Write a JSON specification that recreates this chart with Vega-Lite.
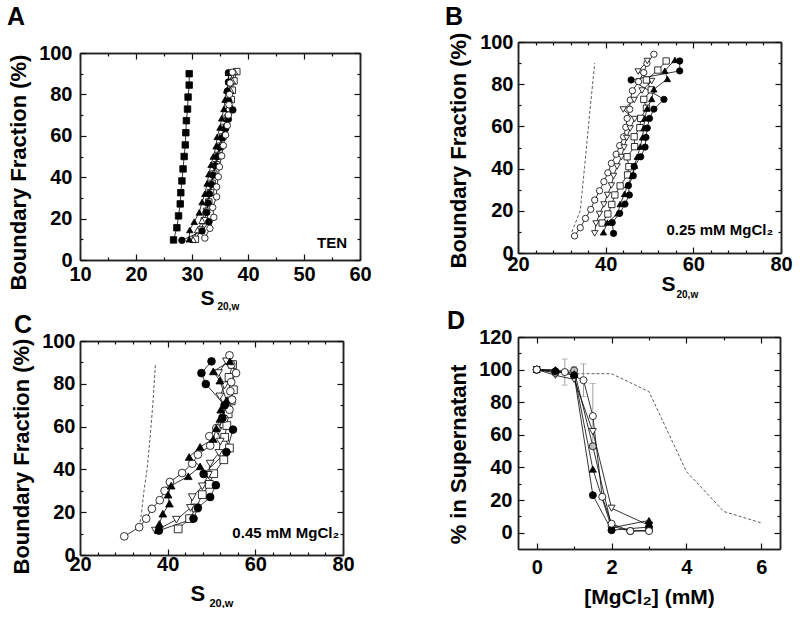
{
"$schema": "https://vega.github.io/schema/vega-lite/v6.json",
"background": "white",
"padding": {"left": 7, "top": 5, "right": 0, "bottom": 0},
"config": {
 "view": {"stroke": null},
 "font": "Liberation Sans",
 "axis": {"domain": true, "domainColor": "#222", "domainWidth": 1.5, "grid": false, "minExtent": 0, "labelFont": "Liberation Sans", "labelFontWeight": "bold", "labelFontSize": 20, "labelColor": "black", "titleFont": "Liberation Sans", "titleFontWeight": "bold", "titleFontSize": 22, "titleColor": "black", "tickColor": "#111", "tickWidth": 1.2, "labelOverlap": false, "labelFlush": false, "labelBound": false},
 "title": {"font": "Liberation Sans", "fontWeight": "bold", "fontSize": 25, "color": "black", "anchor": "start", "frame": "group", "baseline": "alphabetic"}
},
"spacing": 73,
"columns": 2,
"align": "none",
"concat": [
 {"spacing": 2, "vconcat": [
  {"width": 280, "height": 218,
   "title": {"text": "A", "dx": -73, "offset": 12},
   "data": {"name": "A"},
   "resolve": {"axis": {"x": "independent", "y": "independent"}},
   "layer": [
    {"mark": {"type": "point", "opacity": 0},
     "encoding": {
      "x": {"field": "x", "type": "quantitative", "scale": {"domain": [10, 60], "nice": false, "zero": false},
       "axis": {"orient": "bottom", "values": [10,20,30,40,50,60], "tickSize": -6, "labelPadding": 10, "title": "S", "titleFontSize": 21, "titleX": 120, "titleY": 44, "titleAlign": "left", "titleBaseline": "alphabetic"}},
      "y": {"field": "y", "type": "quantitative", "scale": {"domain": [0, 100], "range": [218, 11], "nice": false, "zero": false},
       "axis": {"orient": "left", "values": [0,20,40,60,80,100], "tickSize": -6, "labelPadding": 14, "title": "Boundary Fraction (%)", "titlePadding": 8, "titleY": 130}}
     }},
    {"mark": {"type": "point", "opacity": 0},
     "encoding": {
      "x": {"field": "x", "type": "quantitative", "scale": {"domain": [10, 60], "nice": false, "zero": false},
       "axis": {"orient": "bottom", "values": [15,25,35,45,55], "tickSize": -3, "labels": false, "title": "20,w", "titleFontSize": 10, "titleX": 137, "titleY": 49, "titleAlign": "left", "titleBaseline": "alphabetic"}},
      "y": {"field": "y", "type": "quantitative", "scale": {"domain": [0, 100], "range": [218, 11], "nice": false, "zero": false},
       "axis": {"orient": "right", "values": [0,20,40,60,80,100], "labels": false, "tickSize": -6, "title": null}}
     }},
    {"mark": {"type": "point", "opacity": 0},
     "encoding": {
      "x": {"field": "x", "type": "quantitative", "scale": {"domain": [10, 60], "nice": false, "zero": false},
       "axis": {"orient": "top", "offset": -11, "values": [10,20,30,40,50,60], "labels": false, "tickSize": -6, "title": null}},
      "y": {"field": "y", "type": "quantitative", "scale": {"domain": [0, 100], "range": [218, 11], "nice": false, "zero": false},
       "axis": {"orient": "left", "values": [10,30,50,70,90], "labels": false, "tickSize": -3, "title": null}}
     }},
    {"mark": {"type": "point", "opacity": 0},
     "encoding": {
      "x": {"field": "x", "type": "quantitative", "scale": {"domain": [10, 60], "nice": false, "zero": false},
       "axis": {"orient": "top", "offset": -11, "values": [15,25,35,45,55], "labels": false, "tickSize": -3, "title": null}},
      "y": {"field": "y", "type": "quantitative", "scale": {"domain": [0, 100], "range": [218, 11], "nice": false, "zero": false},
       "axis": {"orient": "right", "values": [10,30,50,70,90], "labels": false, "tickSize": -3, "title": null}}
     }},
    {"mark": {"type": "line", "color": "black", "strokeWidth": 0.8},
     "encoding": {
      "x": {"field": "x", "type": "quantitative", "scale": {"domain": [10, 60], "nice": false, "zero": false}, "axis": null},
      "y": {"field": "y", "type": "quantitative", "scale": {"domain": [0, 100], "range": [218, 11], "nice": false, "zero": false}, "axis": null},
      "detail": {"field": "s"}, "order": {"field": "y"}}},
    {"mark": {"type": "point", "filled": true, "stroke": "black", "strokeWidth": 0.8, "size": 42, "opacity": 1},
     "encoding": {
      "x": {"field": "x", "type": "quantitative", "scale": {"domain": [10, 60], "nice": false, "zero": false}, "axis": null},
      "y": {"field": "y", "type": "quantitative", "scale": {"domain": [0, 100], "range": [218, 11], "nice": false, "zero": false}, "axis": null},
      "shape": {"field": "s", "type": "nominal", "scale": {"domain": ["fs","fc","ft","oc","os","ot","od","gc"], "range": ["square","circle","triangle-up","circle","square","triangle-up","triangle-down","circle"]}, "legend": null},
      "fill": {"field": "s", "type": "nominal", "scale": {"domain": ["fs","fc","ft","oc","os","ot","od","gc"], "range": ["black","black","black","white","white","white","white","#bdbdbd"]}, "legend": null}}},
    {"data": {"values": [{}]},
     "mark": {"type": "text", "text": "TEN", "align": "right", "baseline": "alphabetic", "fontSize": 15, "fontWeight": "bold", "font": "Liberation Sans", "color": "black"},
     "encoding": {
      "x": {"datum": 57.7, "type": "quantitative", "scale": {"domain": [10, 60], "nice": false, "zero": false}, "axis": null},
      "y": {"datum": 5.8, "type": "quantitative", "scale": {"domain": [0, 100], "range": [218, 11], "nice": false, "zero": false}, "axis": null}}}
   ]},
  {"width": 263, "height": 214,
   "title": {"text": "C", "dx": -66, "offset": -7},
   "data": {"name": "C"},
   "resolve": {"axis": {"x": "independent", "y": "independent"}},
   "layer": [
    {"mark": {"type": "point", "opacity": 0},
     "encoding": {
      "x": {"field": "x", "type": "quantitative", "scale": {"domain": [20, 80], "nice": false, "zero": false},
       "axis": {"orient": "bottom", "values": [20,40,60,80], "tickSize": -6, "labelPadding": 5, "title": "S", "titleFontSize": 22, "titleX": 110, "titleY": 45, "titleAlign": "left", "titleBaseline": "alphabetic"}},
      "y": {"field": "y", "type": "quantitative", "scale": {"domain": [0, 100], "nice": false, "zero": false},
       "axis": {"orient": "left", "values": [0,20,40,60,80,100], "tickSize": -6, "labelPadding": 11, "title": "Boundary Fraction (%)", "titlePadding": 8, "titleY": 115}}
     }},
    {"mark": {"type": "point", "opacity": 0},
     "encoding": {
      "x": {"field": "x", "type": "quantitative", "scale": {"domain": [20, 80], "nice": false, "zero": false},
       "axis": {"orient": "bottom", "values": [24,28,32,36,44,48,52,56,64,68,72,76], "tickSize": -3, "labels": false, "title": "20,w", "titleFontSize": 11, "titleX": 129, "titleY": 51, "titleAlign": "left", "titleBaseline": "alphabetic"}},
      "y": {"field": "y", "type": "quantitative", "scale": {"domain": [0, 100], "nice": false, "zero": false},
       "axis": {"orient": "right", "values": [0,20,40,60,80,100], "labels": false, "tickSize": -6, "title": null}}
     }},
    {"mark": {"type": "point", "opacity": 0},
     "encoding": {
      "x": {"field": "x", "type": "quantitative", "scale": {"domain": [20, 80], "nice": false, "zero": false},
       "axis": {"orient": "top", "values": [20,40,60,80], "labels": false, "tickSize": -6, "title": null}},
      "y": {"field": "y", "type": "quantitative", "scale": {"domain": [0, 100], "nice": false, "zero": false},
       "axis": {"orient": "left", "values": [10,30,50,70,90], "labels": false, "tickSize": -3, "title": null}}
     }},
    {"mark": {"type": "point", "opacity": 0},
     "encoding": {
      "x": {"field": "x", "type": "quantitative", "scale": {"domain": [20, 80], "nice": false, "zero": false},
       "axis": {"orient": "top", "values": [24,28,32,36,44,48,52,56,64,68,72,76], "labels": false, "tickSize": -3, "title": null}},
      "y": {"field": "y", "type": "quantitative", "scale": {"domain": [0, 100], "nice": false, "zero": false},
       "axis": {"orient": "right", "values": [10,30,50,70,90], "labels": false, "tickSize": -3, "title": null}}
     }},
    {"transform": [{"filter": "datum.s === 'ref'"}],
     "mark": {"type": "line", "color": "#333", "strokeWidth": 0.8, "strokeDash": [3, 2]},
     "encoding": {
      "x": {"field": "x", "type": "quantitative", "scale": {"domain": [20, 80], "nice": false, "zero": false}, "axis": null},
      "y": {"field": "y", "type": "quantitative", "scale": {"domain": [0, 100], "nice": false, "zero": false}, "axis": null},
      "order": {"field": "y"}}},
    {"transform": [{"filter": "datum.s !== 'ref'"}],
     "mark": {"type": "line", "color": "black", "strokeWidth": 0.8},
     "encoding": {
      "x": {"field": "x", "type": "quantitative", "scale": {"domain": [20, 80], "nice": false, "zero": false}, "axis": null},
      "y": {"field": "y", "type": "quantitative", "scale": {"domain": [0, 100], "nice": false, "zero": false}, "axis": null},
      "detail": {"field": "s"}, "order": {"field": "y"}}},
    {"transform": [{"filter": "datum.s !== 'ref'"}],
     "mark": {"type": "point", "filled": true, "stroke": "black", "strokeWidth": 0.8, "size": 60, "opacity": 1},
     "encoding": {
      "x": {"field": "x", "type": "quantitative", "scale": {"domain": [20, 80], "nice": false, "zero": false}, "axis": null},
      "y": {"field": "y", "type": "quantitative", "scale": {"domain": [0, 100], "nice": false, "zero": false}, "axis": null},
      "shape": {"field": "s", "type": "nominal", "scale": {"domain": ["fs","fc","ft","oc","os","ot","od","gc"], "range": ["square","circle","triangle-up","circle","square","triangle-up","triangle-down","circle"]}, "legend": null},
      "fill": {"field": "s", "type": "nominal", "scale": {"domain": ["fs","fc","ft","oc","os","ot","od","gc"], "range": ["black","black","black","white","white","white","white","#bdbdbd"]}, "legend": null}}},
    {"data": {"values": [{}]},
     "mark": {"type": "text", "text": "0.45 mM MgCl₂", "align": "right", "baseline": "alphabetic", "fontSize": 15, "fontWeight": "bold", "font": "Liberation Sans", "color": "black"},
     "encoding": {
      "x": {"datum": 79.1, "type": "quantitative", "scale": {"domain": [20, 80], "nice": false, "zero": false}, "axis": null},
      "y": {"datum": 7.9, "type": "quantitative", "scale": {"domain": [0, 100], "nice": false, "zero": false}, "axis": null}}}
   ]}
 ]},
 {"spacing": 10, "vconcat": [
  {"width": 263, "height": 211,
   "title": {"text": "B", "dx": -73, "offset": 2},
   "data": {"name": "B"},
   "resolve": {"axis": {"x": "independent", "y": "independent"}},
   "layer": [
    {"mark": {"type": "point", "opacity": 0},
     "encoding": {
      "x": {"field": "x", "type": "quantitative", "scale": {"domain": [20, 80], "nice": false, "zero": false},
       "axis": {"orient": "bottom", "values": [20,40,60,80], "tickSize": -6, "labelPadding": 7, "title": "S", "titleFontSize": 21, "titleX": 143, "titleY": 37, "titleAlign": "left", "titleBaseline": "alphabetic"}},
      "y": {"field": "y", "type": "quantitative", "scale": {"domain": [0, 100], "nice": false, "zero": false},
       "axis": {"orient": "left", "values": [0,20,40,60,80,100], "tickSize": -6, "labelPadding": 11, "title": "Boundary Fraction (%)", "titlePadding": 9, "titleY": 108}}
     }},
    {"mark": {"type": "point", "opacity": 0},
     "encoding": {
      "x": {"field": "x", "type": "quantitative", "scale": {"domain": [20, 80], "nice": false, "zero": false},
       "axis": {"orient": "bottom", "values": [24,28,32,36,44,48,52,56,64,68,72,76], "tickSize": -3, "labels": false, "title": "20,w", "titleFontSize": 10, "titleX": 158, "titleY": 44, "titleAlign": "left", "titleBaseline": "alphabetic"}},
      "y": {"field": "y", "type": "quantitative", "scale": {"domain": [0, 100], "nice": false, "zero": false},
       "axis": {"orient": "right", "values": [0,20,40,60,80,100], "labels": false, "tickSize": -6, "title": null}}
     }},
    {"mark": {"type": "point", "opacity": 0},
     "encoding": {
      "x": {"field": "x", "type": "quantitative", "scale": {"domain": [20, 80], "nice": false, "zero": false},
       "axis": {"orient": "top", "values": [20,40,60,80], "labels": false, "tickSize": -6, "title": null}},
      "y": {"field": "y", "type": "quantitative", "scale": {"domain": [0, 100], "nice": false, "zero": false},
       "axis": {"orient": "left", "values": [10,30,50,70,90], "labels": false, "tickSize": -3, "title": null}}
     }},
    {"mark": {"type": "point", "opacity": 0},
     "encoding": {
      "x": {"field": "x", "type": "quantitative", "scale": {"domain": [20, 80], "nice": false, "zero": false},
       "axis": {"orient": "top", "values": [24,28,32,36,44,48,52,56,64,68,72,76], "labels": false, "tickSize": -3, "title": null}},
      "y": {"field": "y", "type": "quantitative", "scale": {"domain": [0, 100], "nice": false, "zero": false},
       "axis": {"orient": "right", "values": [10,30,50,70,90], "labels": false, "tickSize": -3, "title": null}}
     }},
    {"transform": [{"filter": "datum.s === 'ref'"}],
     "mark": {"type": "line", "color": "#333", "strokeWidth": 0.8, "strokeDash": [3, 2]},
     "encoding": {
      "x": {"field": "x", "type": "quantitative", "scale": {"domain": [20, 80], "nice": false, "zero": false}, "axis": null},
      "y": {"field": "y", "type": "quantitative", "scale": {"domain": [0, 100], "nice": false, "zero": false}, "axis": null},
      "order": {"field": "y"}}},
    {"transform": [{"filter": "datum.s !== 'ref'"}],
     "mark": {"type": "line", "color": "black", "strokeWidth": 0.8},
     "encoding": {
      "x": {"field": "x", "type": "quantitative", "scale": {"domain": [20, 80], "nice": false, "zero": false}, "axis": null},
      "y": {"field": "y", "type": "quantitative", "scale": {"domain": [0, 100], "nice": false, "zero": false}, "axis": null},
      "detail": {"field": "s"}, "order": {"field": "y"}}},
    {"transform": [{"filter": "datum.s !== 'ref'"}],
     "mark": {"type": "point", "filled": true, "stroke": "black", "strokeWidth": 0.8, "size": 40, "opacity": 1},
     "encoding": {
      "x": {"field": "x", "type": "quantitative", "scale": {"domain": [20, 80], "nice": false, "zero": false}, "axis": null},
      "y": {"field": "y", "type": "quantitative", "scale": {"domain": [0, 100], "nice": false, "zero": false}, "axis": null},
      "shape": {"field": "s", "type": "nominal", "scale": {"domain": ["fs","fc","ft","oc","os","ot","od","gc"], "range": ["square","circle","triangle-up","circle","square","triangle-up","triangle-down","circle"]}, "legend": null},
      "fill": {"field": "s", "type": "nominal", "scale": {"domain": ["fs","fc","ft","oc","os","ot","od","gc"], "range": ["black","black","black","white","white","white","white","#bdbdbd"]}, "legend": null}}},
    {"data": {"values": [{}]},
     "mark": {"type": "text", "text": "0.25 mM MgCl₂", "align": "right", "baseline": "alphabetic", "fontSize": 15, "fontWeight": "bold", "font": "Liberation Sans", "color": "black"},
     "encoding": {
      "x": {"datum": 78.2, "type": "quantitative", "scale": {"domain": [20, 80], "nice": false, "zero": false}, "axis": null},
      "y": {"datum": 8.5, "type": "quantitative", "scale": {"domain": [0, 100], "nice": false, "zero": false}, "axis": null}}}
   ]},
  {"width": 262, "height": 212,
   "title": {"text": "D", "dx": -71, "offset": -7},
   "data": {"name": "D"},
   "resolve": {"axis": {"x": "independent", "y": "independent"}},
   "layer": [
    {"mark": {"type": "point", "opacity": 0},
     "encoding": {
      "x": {"field": "x", "type": "quantitative", "scale": {"domain": [-0.5, 6.5], "nice": false, "zero": false},
       "axis": {"orient": "bottom", "values": [0,2,4,6], "tickSize": -6, "labelPadding": 14, "title": "[MgCl₂] (mM)", "titleFontSize": 21, "titleX": 131, "titleY": 54, "titleAlign": "center", "titleBaseline": "alphabetic"}},
      "y": {"field": "y", "type": "quantitative", "scale": {"domain": [-10, 120], "nice": false, "zero": false},
       "axis": {"orient": "left", "values": [0,20,40,60,80,100,120], "tickSize": -6, "labelPadding": 12, "title": "% in Supernatant", "titlePadding": 8, "titleY": 117}}
     }},
    {"mark": {"type": "point", "opacity": 0},
     "encoding": {
      "x": {"field": "x", "type": "quantitative", "scale": {"domain": [-0.5, 6.5], "nice": false, "zero": false},
       "axis": {"orient": "bottom", "values": [1,3,5], "tickSize": -3, "labels": false, "title": null}},
      "y": {"field": "y", "type": "quantitative", "scale": {"domain": [-10, 120], "nice": false, "zero": false},
       "axis": {"orient": "right", "values": [0,20,40,60,80,100,120], "labels": false, "tickSize": -6, "title": null}}
     }},
    {"mark": {"type": "point", "opacity": 0},
     "encoding": {
      "x": {"field": "x", "type": "quantitative", "scale": {"domain": [-0.5, 6.5], "nice": false, "zero": false},
       "axis": {"orient": "top", "values": [0,2,4,6], "labels": false, "tickSize": -6, "title": null}},
      "y": {"field": "y", "type": "quantitative", "scale": {"domain": [-10, 120], "nice": false, "zero": false},
       "axis": {"orient": "left", "values": [10,30,50,70,90,110], "labels": false, "tickSize": -3, "title": null}}
     }},
    {"mark": {"type": "point", "opacity": 0},
     "encoding": {
      "x": {"field": "x", "type": "quantitative", "scale": {"domain": [-0.5, 6.5], "nice": false, "zero": false},
       "axis": {"orient": "top", "values": [1,3,5], "labels": false, "tickSize": -3, "title": null}},
      "y": {"field": "y", "type": "quantitative", "scale": {"domain": [-10, 120], "nice": false, "zero": false},
       "axis": {"orient": "right", "values": [10,30,50,70,90,110], "labels": false, "tickSize": -3, "title": null}}
     }},
    {"transform": [{"filter": "datum.s === 'ref'"}],
     "mark": {"type": "line", "color": "#333", "strokeWidth": 0.8, "strokeDash": [3, 2]},
     "encoding": {
      "x": {"field": "x", "type": "quantitative", "scale": {"domain": [-0.5, 6.5], "nice": false, "zero": false}, "axis": null},
      "y": {"field": "y", "type": "quantitative", "scale": {"domain": [-10, 120], "nice": false, "zero": false}, "axis": null}}},
    {"data": {"name": "Derr"},
     "mark": {"type": "rule", "color": "#888", "strokeWidth": 0.8},
     "encoding": {
      "x": {"field": "x", "type": "quantitative", "scale": {"domain": [-0.5, 6.5], "nice": false, "zero": false}, "axis": null},
      "y": {"field": "lo", "type": "quantitative", "scale": {"domain": [-10, 120], "nice": false, "zero": false}, "axis": null},
      "y2": {"field": "hi"}}},
    {"data": {"name": "Derr"},
     "mark": {"type": "tick", "color": "#888", "orient": "horizontal", "size": 6, "thickness": 0.8},
     "encoding": {
      "x": {"field": "x", "type": "quantitative", "scale": {"domain": [-0.5, 6.5], "nice": false, "zero": false}, "axis": null},
      "y": {"field": "hi", "type": "quantitative", "scale": {"domain": [-10, 120], "nice": false, "zero": false}, "axis": null}}},
    {"data": {"name": "Derr"},
     "mark": {"type": "tick", "color": "#888", "orient": "horizontal", "size": 6, "thickness": 0.8},
     "encoding": {
      "x": {"field": "x", "type": "quantitative", "scale": {"domain": [-0.5, 6.5], "nice": false, "zero": false}, "axis": null},
      "y": {"field": "lo", "type": "quantitative", "scale": {"domain": [-10, 120], "nice": false, "zero": false}, "axis": null}}},
    {"transform": [{"filter": "datum.s !== 'ref'"}],
     "mark": {"type": "line", "color": "black", "strokeWidth": 0.8},
     "encoding": {
      "x": {"field": "x", "type": "quantitative", "scale": {"domain": [-0.5, 6.5], "nice": false, "zero": false}, "axis": null},
      "y": {"field": "y", "type": "quantitative", "scale": {"domain": [-10, 120], "nice": false, "zero": false}, "axis": null},
      "detail": {"field": "s"}}},
    {"transform": [{"filter": "datum.s !== 'ref'"}],
     "mark": {"type": "point", "filled": true, "stroke": "black", "strokeWidth": 0.8, "size": 50, "opacity": 1},
     "encoding": {
      "x": {"field": "x", "type": "quantitative", "scale": {"domain": [-0.5, 6.5], "nice": false, "zero": false}, "axis": null},
      "y": {"field": "y", "type": "quantitative", "scale": {"domain": [-10, 120], "nice": false, "zero": false}, "axis": null},
      "shape": {"field": "s", "type": "nominal", "scale": {"domain": ["fs","fc","ft","oc","os","ot","od","gc"], "range": ["square","circle","triangle-up","circle","square","triangle-up","triangle-down","circle"]}, "legend": null},
      "fill": {"field": "s", "type": "nominal", "scale": {"domain": ["fs","fc","ft","oc","os","ot","od","gc"], "range": ["black","black","black","white","white","white","white","#bdbdbd"]}, "legend": null}}}
   ]}
 ]}
],
"datasets": {
 "A": [
  {"s":"os","x":30.6,"y":10},{"s":"os","x":31.6,"y":14.5},{"s":"os","x":32.2,"y":19},{"s":"os","x":32.6,"y":23.5},{"s":"os","x":33,"y":28},{"s":"os","x":33.3,"y":32.5},{"s":"os","x":33.6,"y":37},{"s":"os","x":33.9,"y":41.5},{"s":"os","x":34.3,"y":46},{"s":"os","x":34.7,"y":50.5},{"s":"os","x":35.1,"y":55},{"s":"os","x":35.5,"y":59.5},{"s":"os","x":35.9,"y":64},{"s":"os","x":36.3,"y":68.5},{"s":"os","x":36.7,"y":73},{"s":"os","x":37,"y":77.5},{"s":"os","x":37.2,"y":82},{"s":"os","x":37.5,"y":86.5},{"s":"os","x":38,"y":91},
  {"s":"ot","x":30.2,"y":9.8},{"s":"ot","x":31,"y":14.5},{"s":"ot","x":31.8,"y":19},{"s":"ot","x":32.3,"y":23.5},{"s":"ot","x":32.7,"y":28},{"s":"ot","x":33.1,"y":32.5},{"s":"ot","x":33.4,"y":37},{"s":"ot","x":33.7,"y":41.5},{"s":"ot","x":34.1,"y":46},{"s":"ot","x":34.5,"y":50.5},{"s":"ot","x":34.9,"y":55},{"s":"ot","x":35.3,"y":59.5},{"s":"ot","x":35.7,"y":64},{"s":"ot","x":36.1,"y":68.5},{"s":"ot","x":36.4,"y":73},{"s":"ot","x":36.7,"y":77.5},{"s":"ot","x":36.9,"y":82},{"s":"ot","x":37.2,"y":86.5},{"s":"ot","x":37.6,"y":91},
  {"s":"fc","x":28.2,"y":9.5},{"s":"fc","x":31.8,"y":14},{"s":"fc","x":33,"y":18.5},{"s":"fc","x":32.6,"y":23},{"s":"fc","x":32.9,"y":27.5},{"s":"fc","x":33.1,"y":32},{"s":"fc","x":33.5,"y":36.5},{"s":"fc","x":33.8,"y":41},{"s":"fc","x":34.2,"y":45.5},{"s":"fc","x":34.6,"y":50},{"s":"fc","x":35,"y":54.5},{"s":"fc","x":35.4,"y":59},{"s":"fc","x":36,"y":63.5},{"s":"fc","x":36.5,"y":68},{"s":"fc","x":37.3,"y":72.5},{"s":"fc","x":36.5,"y":77},{"s":"fc","x":36.3,"y":81.5},{"s":"fc","x":36.5,"y":86},{"s":"fc","x":36.5,"y":90.5},
  {"s":"ft","x":29.5,"y":10},{"s":"ft","x":29.6,"y":14.5},{"s":"ft","x":30.4,"y":18.5},{"s":"ft","x":31.3,"y":23},{"s":"ft","x":31.8,"y":28},{"s":"ft","x":32.3,"y":32},{"s":"ft","x":32.7,"y":37},{"s":"ft","x":33,"y":41.5},{"s":"ft","x":33.4,"y":46},{"s":"ft","x":33.8,"y":50},{"s":"ft","x":34.3,"y":55},{"s":"ft","x":34.5,"y":59.5},{"s":"ft","x":35,"y":64},{"s":"ft","x":35.3,"y":68.5},{"s":"ft","x":35.7,"y":73},{"s":"ft","x":35.9,"y":77.5},{"s":"ft","x":36.2,"y":82},{"s":"ft","x":36.6,"y":86},{"s":"ft","x":36.5,"y":90.5},
  {"s":"oc","x":32.3,"y":10.6},{"s":"oc","x":33.2,"y":15.3},{"s":"oc","x":33.9,"y":20.6},{"s":"oc","x":33.7,"y":25.4},{"s":"oc","x":34.4,"y":30.5},{"s":"oc","x":34.4,"y":35.3},{"s":"oc","x":34.7,"y":40.2},{"s":"oc","x":34.9,"y":45},{"s":"oc","x":35.3,"y":50.3},{"s":"oc","x":35.6,"y":55.3},{"s":"oc","x":36,"y":60.4},{"s":"oc","x":36.3,"y":65},{"s":"oc","x":36.5,"y":70},{"s":"oc","x":36.6,"y":75},{"s":"oc","x":36.7,"y":80},{"s":"oc","x":36.8,"y":85.5},{"s":"oc","x":37.2,"y":90.7},
  {"s":"fs","x":26.7,"y":9.7},{"s":"fs","x":27.3,"y":15.6},{"s":"fs","x":27.6,"y":21.3},{"s":"fs","x":27.9,"y":27.1},{"s":"fs","x":28.0,"y":32.5},{"s":"fs","x":28.2,"y":38.2},{"s":"fs","x":28.4,"y":44},{"s":"fs","x":28.6,"y":50},{"s":"fs","x":28.8,"y":55.6},{"s":"fs","x":28.9,"y":61.5},{"s":"fs","x":29.0,"y":67.3},{"s":"fs","x":29.2,"y":72.9},{"s":"fs","x":29.3,"y":78.7},{"s":"fs","x":29.5,"y":84.5},{"s":"fs","x":29.5,"y":90}
 ],
 "B": [
  {"s":"ref","x":32.3,"y":10},{"s":"ref","x":34.2,"y":20},{"s":"ref","x":35.2,"y":41},{"s":"ref","x":36.3,"y":65},{"s":"ref","x":37.5,"y":90},
  {"s":"oc","x":32.9,"y":8.1},{"s":"oc","x":34.2,"y":12},{"s":"oc","x":35.4,"y":16.4},{"s":"oc","x":36.6,"y":20.7},{"s":"oc","x":37.5,"y":25.1},{"s":"oc","x":38.6,"y":29.5},{"s":"oc","x":39.6,"y":33.8},{"s":"oc","x":40.5,"y":38},{"s":"oc","x":41.3,"y":42.5},{"s":"oc","x":42.4,"y":46.8},{"s":"oc","x":43.2,"y":50.9},{"s":"oc","x":44.1,"y":55.1},{"s":"oc","x":44.6,"y":59.6},{"s":"oc","x":44.9,"y":63.8},{"s":"oc","x":45.5,"y":68.1},{"s":"oc","x":45.6,"y":72.5},{"s":"oc","x":46.1,"y":76.9},{"s":"oc","x":47.5,"y":81.2},{"s":"oc","x":48.7,"y":85.5},{"s":"oc","x":49.4,"y":89.9},{"s":"oc","x":51,"y":94.2},
  {"s":"od","x":37.5,"y":9.3},{"s":"od","x":37.8,"y":14},{"s":"od","x":38.6,"y":18.5},{"s":"od","x":39.6,"y":23},{"s":"od","x":40.4,"y":27.5},{"s":"od","x":41.3,"y":32},{"s":"od","x":41.8,"y":36.5},{"s":"od","x":42.6,"y":41},{"s":"od","x":43.6,"y":45.5},{"s":"od","x":44.2,"y":50},{"s":"od","x":44.8,"y":54.5},{"s":"od","x":45.6,"y":59},{"s":"od","x":46.6,"y":63.5},{"s":"od","x":44,"y":68},{"s":"od","x":46.5,"y":72.5},{"s":"od","x":48.3,"y":77},{"s":"od","x":50.5,"y":81.5},{"s":"od","x":47.4,"y":86},{"s":"od","x":49.5,"y":91},
  {"s":"os","x":39.2,"y":14.2},{"s":"os","x":40.5,"y":18.5},{"s":"os","x":41.4,"y":23},{"s":"os","x":42.1,"y":27.5},{"s":"os","x":43.3,"y":31.8},{"s":"os","x":45,"y":37},{"s":"os","x":45.3,"y":40.9},{"s":"os","x":44.9,"y":45.6},{"s":"os","x":46.6,"y":50.4},{"s":"os","x":46.5,"y":55.1},{"s":"os","x":47.8,"y":59.4},{"s":"os","x":48,"y":63.8},{"s":"os","x":49.3,"y":68.6},{"s":"os","x":48.7,"y":72.8},{"s":"os","x":50.4,"y":77.3},{"s":"os","x":49.3,"y":82},{"s":"os","x":51.9,"y":86.7},{"s":"os","x":53.8,"y":91},
  {"s":"ft","x":39.5,"y":9.8},{"s":"ft","x":40.4,"y":14.4},{"s":"ft","x":42.8,"y":18.8},{"s":"ft","x":43.3,"y":23.2},{"s":"ft","x":44.3,"y":28},{"s":"ft","x":45,"y":32.2},{"s":"ft","x":46,"y":36.6},{"s":"ft","x":46.6,"y":41.4},{"s":"ft","x":47.2,"y":45.6},{"s":"ft","x":47.9,"y":50.4},{"s":"ft","x":48.4,"y":54.8},{"s":"ft","x":48.7,"y":59.2},{"s":"ft","x":48.9,"y":63.8},{"s":"ft","x":49.5,"y":68.6},{"s":"ft","x":50.5,"y":73},{"s":"ft","x":51,"y":77.6},{"s":"ft","x":54.1,"y":82.5},{"s":"ft","x":53.5,"y":86.4},{"s":"ft","x":55.8,"y":91.5},
  {"s":"fc","x":41.8,"y":9.3},{"s":"fc","x":41.5,"y":14.4},{"s":"fc","x":43.2,"y":18.8},{"s":"fc","x":44.4,"y":23.2},{"s":"fc","x":45.4,"y":27.5},{"s":"fc","x":45.2,"y":32},{"s":"fc","x":46.3,"y":36.6},{"s":"fc","x":46.5,"y":41},{"s":"fc","x":48,"y":45.6},{"s":"fc","x":49,"y":50.2},{"s":"fc","x":49.2,"y":54.8},{"s":"fc","x":49.5,"y":59.2},{"s":"fc","x":50,"y":63.8},{"s":"fc","x":51,"y":68.2},{"s":"fc","x":53.3,"y":72.8},{"s":"fc","x":45.8,"y":82},{"s":"fc","x":56.9,"y":86.3},{"s":"fc","x":56.9,"y":91}
 ],
 "C": [
  {"s":"ref","x":33.5,"y":13},{"s":"ref","x":34,"y":19},{"s":"ref","x":34.6,"y":30},{"s":"ref","x":35.3,"y":40},{"s":"ref","x":36,"y":55},{"s":"ref","x":36.6,"y":70},{"s":"ref","x":37.2,"y":89},
  {"s":"os","x":42.4,"y":12.2},{"s":"os","x":45,"y":17},{"s":"os","x":46.5,"y":22},{"s":"os","x":47.9,"y":28.2},{"s":"os","x":49.5,"y":33},{"s":"os","x":50.5,"y":38},{"s":"os","x":52.8,"y":44.5},{"s":"os","x":54.1,"y":50},{"s":"os","x":53,"y":55},{"s":"os","x":53.5,"y":60.5},{"s":"os","x":53.8,"y":66},{"s":"os","x":54.5,"y":72},{"s":"os","x":55,"y":77.2},{"s":"os","x":54,"y":83},{"s":"os","x":54.8,"y":89},
  {"s":"od","x":37.2,"y":11.4},{"s":"od","x":42,"y":16.5},{"s":"od","x":45.2,"y":22},{"s":"od","x":45.6,"y":27},{"s":"od","x":47.9,"y":32.1},{"s":"od","x":49.3,"y":37.5},{"s":"od","x":49.7,"y":42.7},{"s":"od","x":51.7,"y":47.7},{"s":"od","x":52,"y":53},{"s":"od","x":51.5,"y":58},{"s":"od","x":52.6,"y":63.7},{"s":"od","x":53,"y":69},{"s":"od","x":51.9,"y":74.1},{"s":"od","x":53,"y":79.3},{"s":"od","x":51.6,"y":85},{"s":"od","x":53.4,"y":90.5},
  {"s":"oc","x":30.1,"y":8.7},{"s":"oc","x":33.5,"y":13},{"s":"oc","x":35.1,"y":17},{"s":"oc","x":36.4,"y":21.6},{"s":"oc","x":38.2,"y":25.6},{"s":"oc","x":39.3,"y":30},{"s":"oc","x":40.5,"y":34.1},{"s":"oc","x":43.3,"y":38.3},{"s":"oc","x":45.6,"y":42.7},{"s":"oc","x":46.9,"y":46.9},{"s":"oc","x":49.7,"y":51.1},{"s":"oc","x":49.5,"y":55.5},{"s":"oc","x":51.1,"y":59.3},{"s":"oc","x":52.9,"y":63.7},{"s":"oc","x":54.1,"y":67.9},{"s":"oc","x":54.7,"y":72.6},{"s":"oc","x":54.3,"y":76.5},{"s":"oc","x":54.5,"y":80.8},{"s":"oc","x":55.6,"y":85},{"s":"oc","x":54.5,"y":88.9},{"s":"oc","x":54.1,"y":93.3},
  {"s":"ft","x":37.8,"y":11.8},{"s":"ft","x":38.1,"y":14.5},{"s":"ft","x":38.9,"y":19.3},{"s":"ft","x":40.4,"y":24},{"s":"ft","x":40.1,"y":28.2},{"s":"ft","x":40.8,"y":32.4},{"s":"ft","x":44.7,"y":36.8},{"s":"ft","x":47.4,"y":41.4},{"s":"ft","x":44.9,"y":45.8},{"s":"ft","x":47.4,"y":50.5},{"s":"ft","x":50.4,"y":54.2},{"s":"ft","x":51.1,"y":59.3},{"s":"ft","x":51.9,"y":63.6},{"s":"ft","x":52.1,"y":67.9},{"s":"ft","x":53.4,"y":72.3},{"s":"ft","x":51.9,"y":81.5},{"s":"ft","x":50.4,"y":85.8},{"s":"ft","x":54.2,"y":90.5},
  {"s":"fc","x":38,"y":11.4},{"s":"fc","x":45.9,"y":17},{"s":"fc","x":46.9,"y":22},{"s":"fc","x":49.7,"y":27.1},{"s":"fc","x":51,"y":32.6},{"s":"fc","x":48.2,"y":37.9},{"s":"fc","x":53.4,"y":48.1},{"s":"fc","x":54.9,"y":58.6},{"s":"fc","x":52.5,"y":64},{"s":"fc","x":53,"y":70},{"s":"fc","x":48.7,"y":79.9},{"s":"fc","x":47.7,"y":85},{"s":"fc","x":50,"y":90.5}
 ],
 "D": [
  {"s":"ref","x":0,"y":100},{"s":"ref","x":1,"y":97.5},{"s":"ref","x":2,"y":97.5},{"s":"ref","x":3,"y":86.5},{"s":"ref","x":4,"y":37.5},{"s":"ref","x":5,"y":13},{"s":"ref","x":6,"y":6},
  {"s":"od","x":0,"y":100},{"s":"od","x":0.5,"y":96.5},{"s":"od","x":1,"y":94},{"s":"od","x":1.5,"y":62},{"s":"od","x":2,"y":15},{"s":"od","x":3,"y":4.5},
  {"s":"gc","x":0,"y":100},{"s":"gc","x":0.5,"y":98},{"s":"gc","x":1,"y":99.5},{"s":"gc","x":1.5,"y":53},{"s":"gc","x":2,"y":4},{"s":"gc","x":2.5,"y":1},{"s":"gc","x":3,"y":1.5},
  {"s":"fc","x":0,"y":100},{"s":"fc","x":0.5,"y":99},{"s":"fc","x":1,"y":96.5},{"s":"fc","x":1.5,"y":23},{"s":"fc","x":2,"y":1.5},{"s":"fc","x":3,"y":3.5},
  {"s":"ft","x":0,"y":100},{"s":"ft","x":0.5,"y":100},{"s":"ft","x":1,"y":97.5},{"s":"ft","x":1.5,"y":39},{"s":"ft","x":2,"y":3},{"s":"ft","x":3,"y":7.5},
  {"s":"oc","x":0,"y":100},{"s":"oc","x":0.75,"y":98.5},{"s":"oc","x":1.25,"y":93.5},{"s":"oc","x":1.5,"y":71.5},{"s":"oc","x":1.75,"y":22},{"s":"oc","x":2,"y":5.5},{"s":"oc","x":2.5,"y":1},{"s":"oc","x":3,"y":1}
 ],
 "Derr": [
  {"x":0.75,"lo":90.5,"hi":106.5},{"x":1.0,"lo":96,"hi":102},{"x":1.25,"lo":83.5,"hi":103.5},{"x":1.5,"lo":51.5,"hi":91.5}
 ]
}
}
